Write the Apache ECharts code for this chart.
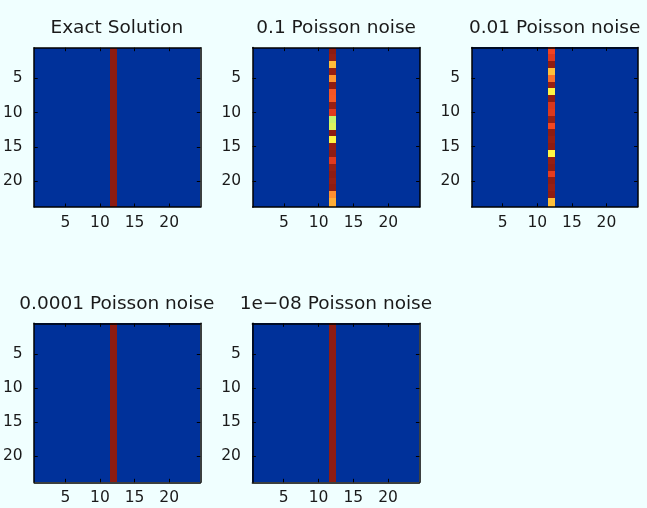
<!DOCTYPE html>
<html>
<head>
<meta charset="utf-8">
<script src="https://cdn.jsdelivr.net/npm/echarts@6/dist/echarts.min.js"></script>
<style>
  html, body { margin: 0; padding: 0; background: #F0FFFF; }
  #chart { width: 647px; height: 508px; }
</style>
</head>
<body>
<div id="chart"></div>
<script>
// ---- data -------------------------------------------------------------
// Each image is 24 x 24 pixels; only column 12 carries signal, every other
// pixel is zero. Values are scaled to the colour range of each image.
const gridSize = 24;
const spikeColumn = 12;
const tickValues = [5, 10, 15, 20];
const panelTitles = [
  'Exact Solution',
  '0.1 Poisson noise',
  '0.01 Poisson noise',
  '0.0001 Poisson noise',
  '1e\u221208 Poisson noise'
];

// column 12, rows 1..24 (top to bottom)
const exactColumn = [1, 1, 1, 1, 1, 1, 1, 1, 1, 1, 1, 1, 1, 1, 1, 1, 1, 1, 1, 1, 1, 1, 1, 1];
const noise1e1Column = [1.00, 0.99, 0.70, 0.99, 0.75, 1.00, 0.845, 0.84, 0.99, 0.895, 0.57, 0.59,
                        1.00, 0.625, 0.99, 1.00, 0.895, 0.99, 1.00, 0.99, 1.00, 0.76, 0.72, 0.72];
const noise1e2Column = [0.87, 0.90, 1.00, 0.695, 0.805, 0.99, 0.625, 1.00, 0.905, 0.90, 0.99, 0.865,
                        1.00, 0.99, 1.00, 0.625, 0.99, 1.00, 0.89, 1.00, 0.99, 1.00, 0.695, 0.695];
const noise1e4Column = [1, 1, 1, 1, 1, 1, 1, 1, 1, 1, 1, 1, 1, 1, 1, 1, 1, 1, 1, 1, 1, 1, 1, 1];
const noise1e8Column = [1, 1, 1, 1, 1, 1, 1, 1, 1, 1, 1, 1, 1, 1, 1, 1, 1, 1, 1, 1, 1, 1, 1, 1];
const spikeColumns = [exactColumn, noise1e1Column, noise1e2Column, noise1e4Column, noise1e8Column];

// ---- layout & style ---------------------------------------------------
const panelBoxes = [
  { left: 33.3,  top: 47.7,  width: 167, height: 159.3 },
  { left: 252.6, top: 47.6,  width: 167, height: 159.3 },
  { left: 471.6, top: 47.4,  width: 166, height: 159.4 },
  { left: 33.3,  top: 323.3, width: 167, height: 159 },
  { left: 252.4, top: 323.3, width: 167, height: 159 }
];
const titleCapCenters = [28.5, 28.5, 28.5, 303.8, 303.8];
const yVisibleMax = 23.8;   // bottom row is partly cut by the axes box
const jetColors = ['#00319A', '#0042D2', '#0080F0', '#10D0F0', '#80F0A0',
                   '#FFF545', '#FF9632', '#F04020', '#8E1C12'];
const fontFamily = '"DejaVu Sans", "Liberation Sans", sans-serif';
const textColor = '#1a1a1a';

// full image for each panel
function buildImage(column) {
  const cells = [];
  for (let r = 1; r <= gridSize; r++) {
    for (let c = 1; c <= gridSize; c++) {
      cells.push([c, r, c === spikeColumn ? column[r - 1] : 0]);
    }
  }
  return cells;
}

// one pixel of the image; edges snapped to whole device pixels so that
// neighbouring cells meet without seams
function renderCell(params, api) {
  const x = api.value(0), y = api.value(1);
  const p0 = api.coord([x - 0.5, y - 0.5]);
  const p1 = api.coord([x + 0.5, y + 0.5]);
  const cs = params.coordSys;
  const left = Math.max(Math.min(p0[0], p1[0]), cs.x);
  const right = Math.min(Math.max(p0[0], p1[0]), cs.x + cs.width);
  const top = Math.max(Math.min(p0[1], p1[1]), cs.y);
  const bottom = Math.min(Math.max(p0[1], p1[1]), cs.y + cs.height);
  if (right <= left || bottom <= top) return;
  const x0 = Math.round(left), x1 = Math.round(right);
  const y0 = Math.round(top), y1 = Math.round(bottom);
  return {
    type: 'rect',
    shape: { x: x0, y: y0, width: x1 - x0, height: y1 - y0 },
    style: { fill: api.visual('color') }
  };
}

const grid = [], xAxis = [], yAxis = [], series = [], visualMap = [], graphic = [];
const lineStyle = { color: '#000', width: 1.5 };
const tickStyle = { show: true, inside: true, length: 3.5, lineStyle: { color: '#000', width: 1 }, customValues: tickValues };

panelBoxes.forEach((box, i) => {
  grid.push(Object.assign({ containLabel: false }, box));
  // bottom (labelled) and top (ticks only) x axes
  xAxis.push({
    type: 'value', gridIndex: i, position: 'bottom', min: 0.5, max: gridSize + 0.5, z: 10,
    axisLine: { show: true, onZero: false, lineStyle },
    axisTick: tickStyle,
    axisLabel: { show: true, customValues: tickValues, margin: 16, verticalAlign: 'middle',
                 fontFamily, fontSize: 15.5, color: textColor },
    splitLine: { show: false }
  });
  xAxis.push({
    type: 'value', gridIndex: i, position: 'top', min: 0.5, max: gridSize + 0.5, z: 10,
    axisLine: { show: true, onZero: false, lineStyle },
    axisTick: tickStyle, axisLabel: { show: false }, splitLine: { show: false }
  });
  // left (labelled) and right (ticks only) y axes; row 1 at the top
  yAxis.push({
    type: 'value', gridIndex: i, position: 'left', inverse: true, min: 0.5, max: yVisibleMax, z: 10,
    axisLine: { show: true, onZero: false, lineStyle },
    axisTick: tickStyle,
    axisLabel: { show: true, customValues: tickValues, margin: 11.5,
                 fontFamily, fontSize: 15.5, color: textColor },
    splitLine: { show: false }
  });
  yAxis.push({
    type: 'value', gridIndex: i, position: 'right', inverse: true, min: 0.5, max: yVisibleMax, z: 10,
    axisLine: { show: true, onZero: false, lineStyle },
    axisTick: tickStyle, axisLabel: { show: false }, splitLine: { show: false }
  });
  series.push({
    type: 'custom',
    xAxisIndex: 2 * i, yAxisIndex: 2 * i,
    renderItem: renderCell,
    encode: { x: 0, y: 1 },
    data: buildImage(spikeColumns[i]),
    silent: true,
    animation: false
  });
  visualMap.push({
    type: 'continuous', show: false, seriesIndex: i, dimension: 2,
    min: 0, max: 1, inRange: { color: jetColors }
  });
  graphic.push({
    type: 'text',
    x: box.left + box.width / 2,
    y: titleCapCenters[i],
    style: { text: panelTitles[i], fontFamily, fontSize: 18.5, fill: textColor,
             align: 'center', verticalAlign: 'middle' }
  });
});

const chart = echarts.init(document.getElementById('chart'), null, { renderer: 'canvas' });
chart.setOption({
  backgroundColor: '#F0FFFF',
  animation: false,
  grid, xAxis, yAxis, series, visualMap, graphic
});
</script>
</body>
</html>
